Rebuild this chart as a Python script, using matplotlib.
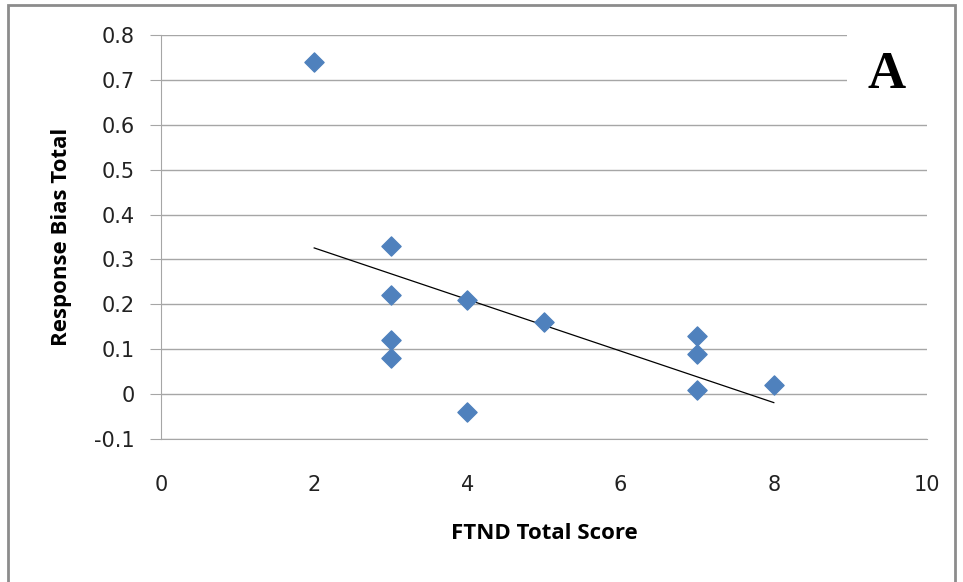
import matplotlib.pyplot as plt
import numpy as np
from matplotlib.patches import Rectangle

# FTND total score vs response bias total
ftnd_score = [2, 3, 3, 3, 3, 4, 4, 5, 7, 7, 7, 8]
response_bias = [0.74, 0.33, 0.22, 0.12, 0.08, 0.21, -0.04, 0.16, 0.13, 0.09, 0.01, 0.02]
y_ticks = [-0.1, 0, 0.1, 0.2, 0.3, 0.4, 0.5, 0.6, 0.7, 0.8]
x_ticks = [0, 2, 4, 6, 8, 10]

tick_font = "DejaVu Sans"
label_font = "Open Sans"
grid_color = "#a6a6a6"

fig = plt.figure(figsize=(9.63, 5.82), dpi=100)
fig.patch.set_facecolor("white")

# outer chart frame
fig.add_artist(Rectangle((8 / 963, -0.01), 947 / 963, 1 - 5 / 582 + 0.01,
                         transform=fig.transFigure, fill=False,
                         edgecolor="#8c8c8c", linewidth=2))

ax = fig.add_axes([161 / 963, 1 - 439 / 582, (927 - 161) / 963, (439 - 35) / 582])

ax.scatter(ftnd_score, response_bias, marker="D", s=95, color="#4f81bd",
           edgecolor="#4f81bd", zorder=3)

slope, intercept = np.polyfit(ftnd_score, response_bias, 1)
fit_x = np.array([min(ftnd_score), max(ftnd_score)])
ax.plot(fit_x, slope * fit_x + intercept, color="black", linewidth=0.9, zorder=2)

ax.set_xlim(0, 10)
ax.set_ylim(-0.1, 0.8)
ax.set_xticks(x_ticks)
ax.set_yticks(y_ticks)
ax.set_yticklabels(["-0.1", "0", "0.1", "0.2", "0.3", "0.4", "0.5", "0.6", "0.7", "0.8"])
ax.grid(axis="y", color=grid_color, linewidth=1)
ax.set_axisbelow(True)

for side in ["top", "right"]:
    ax.spines[side].set_visible(False)
ax.spines["left"].set_color(grid_color)
ax.spines["bottom"].set_color(grid_color)

ax.tick_params(axis="y", direction="out", length=8, color=grid_color, pad=11)
ax.tick_params(axis="x", length=0, pad=26)
for lbl in ax.get_xticklabels() + ax.get_yticklabels():
    lbl.set_fontfamily(tick_font)
    lbl.set_fontsize(15)
    lbl.set_color("#222222")

ax.set_xlabel("FTND Total Score", fontfamily=label_font, fontweight="bold",
              fontsize=16, labelpad=20)
ax.set_ylabel("Response Bias Total", fontfamily=label_font, fontweight="bold",
              fontsize=16, labelpad=16)

# panel letter on a white box covering the grid
ax.add_patch(Rectangle((0.895, 0.815), 0.11, 0.2, transform=ax.transAxes,
                       facecolor="white", edgecolor="none", zorder=2.5))
ax.text(0.947, 0.9, "A", transform=ax.transAxes, ha="center", va="center",
        fontfamily="Liberation Serif", fontweight="bold", fontsize=38, zorder=4)

fig.savefig("out.png", dpi=100, facecolor="white")
